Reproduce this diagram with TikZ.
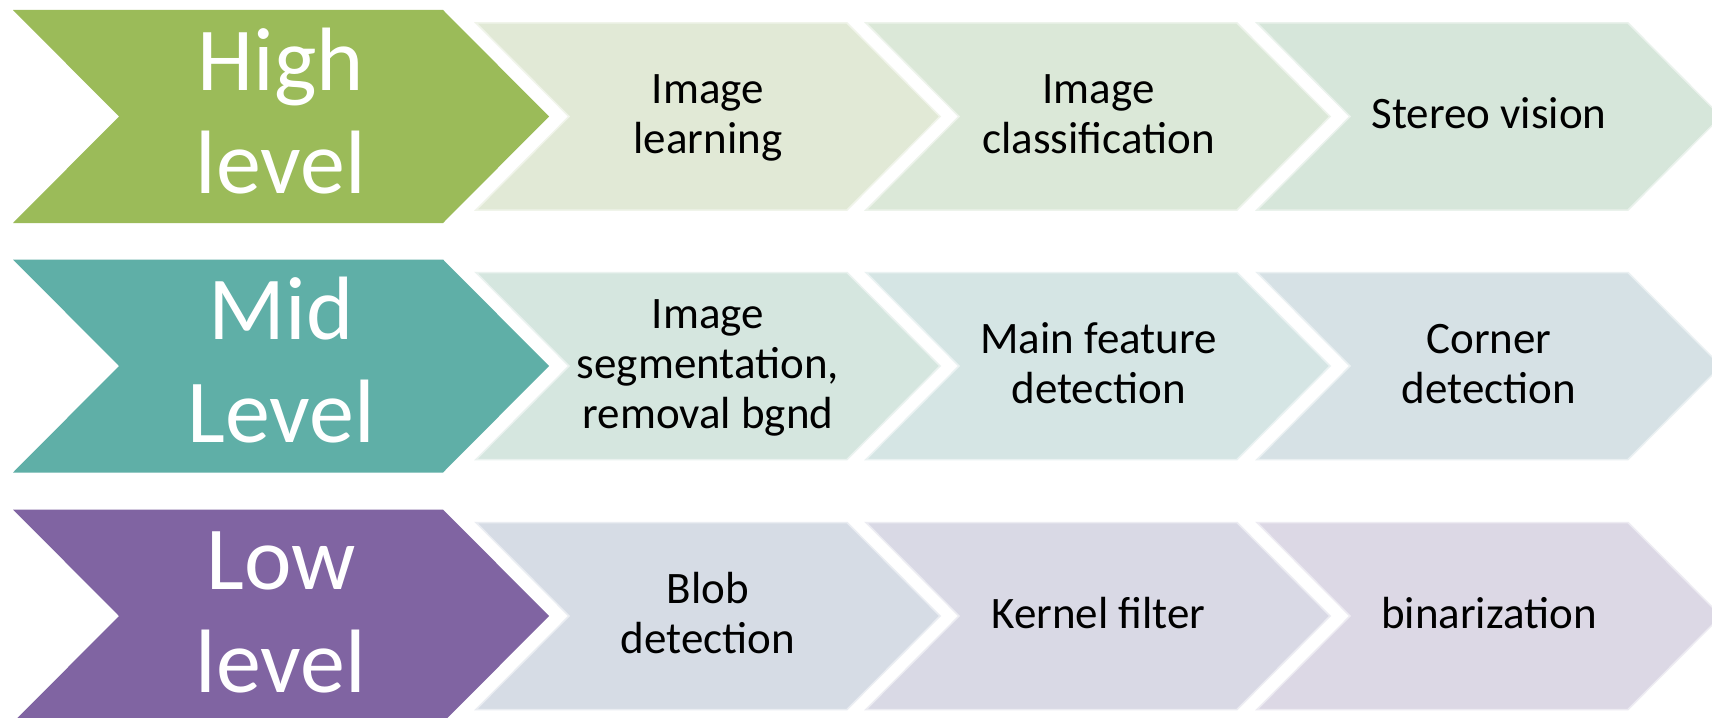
\documentclass[tikz,border=0pt]{standalone}
\usepackage{fontspec}
\setmainfont{Carlito}
\definecolor{cgreen}{HTML}{9BBB59}
\definecolor{cteal}{HTML}{5FAFA7}
\definecolor{cpurple}{HTML}{8064A2}
\definecolor{la}{HTML}{E1E9D6}
\definecolor{lb}{HTML}{DBE8D8}
\definecolor{lc}{HTML}{D6E6DA}
\definecolor{ld}{HTML}{D5E6DF}
\definecolor{le}{HTML}{D5E5E4}
\definecolor{lf}{HTML}{D6E1E5}
\definecolor{lg}{HTML}{D6DCE5}
\definecolor{lh}{HTML}{D9D9E5}
\definecolor{li}{HTML}{DCD8E5}
\newcommand\bgst{\rule[-30pt]{0pt}{100pt}}
\newcommand\smst{\rule[-15pt]{0pt}{50pt}}
\newcommand\bigchev[2]{%
  \fill[#2] (13,#1-106.5) -- (443,#1-106.5) -- (549,#1) -- (443,#1+106.5) -- (13,#1+106.5) -- (119,#1) -- cycle;}
\newcommand\lightchev[3]{%
  \filldraw[fill=#3, draw=#3!50!white, line width=1.5pt, line join=miter] (#1,#2-93.5) -- ++(371,0) -- ++(93,93.5) -- ++(-93,93.5) -- ++(-371,0) -- ++(93,-93.5) -- cycle;}
\tikzset{
  bigtxt/.style={text=white, align=center, inner sep=0pt, font=\fontsize{90}{103}\selectfont},
  smalltxt/.style={text=black, align=center, inner sep=0pt, font=\fontsize{45}{50}\selectfont}
}
\begin{document}
\begin{tikzpicture}[x=1pt, y=-1pt]
\useasboundingbox (0,0) rectangle (1712,717);
\clip (0,0) rectangle (1712,717);
\fill[white] (0,0) rectangle (1712,717);
% row 1
\bigchev{116.5}{cgreen}
\lightchev{476}{116.5}{la}
\lightchev{866}{116.5}{lb}
\lightchev{1257}{116.5}{lc}
\node[bigtxt] (high) at (281,121.5) {\bgst High\\\bgst level};
\node[smalltxt] (t11) at (708,118.5) {\smst Image\\\smst learning};
\node[smalltxt] (t12) at (1098.5,118.5) {\smst Image\\\smst classification};
\node[smalltxt] (t13) at (1489,118.5) {\smst Stereo vision};
% row 2
\bigchev{366}{cteal}
\lightchev{476}{366}{ld}
\lightchev{866}{366}{le}
\lightchev{1257}{366}{lf}
\node[bigtxt] (mid) at (281,371) {\bgst Mid\\\bgst Level};
\node[smalltxt] (t21) at (708,368) {\smst Image\\\smst segmentation,\\\smst removal bgnd};
\node[smalltxt] (t22) at (1098.5,368) {\smst Main feature\\\smst detection};
\node[smalltxt] (t23) at (1489,368) {\smst Corner\\\smst detection};
% row 3
\bigchev{616}{cpurple}
\lightchev{476}{616}{lg}
\lightchev{866}{616}{lh}
\lightchev{1257}{616}{li}
\node[bigtxt] (low) at (281,621) {\bgst Low\\\bgst level};
\node[smalltxt] (t31) at (708,618) {\smst Blob\\\smst detection};
\node[smalltxt] (t32) at (1098.5,618) {\smst Kernel filter};
\node[smalltxt] (t33) at (1489,618) {\smst binarization};
\end{tikzpicture}
\end{document}
